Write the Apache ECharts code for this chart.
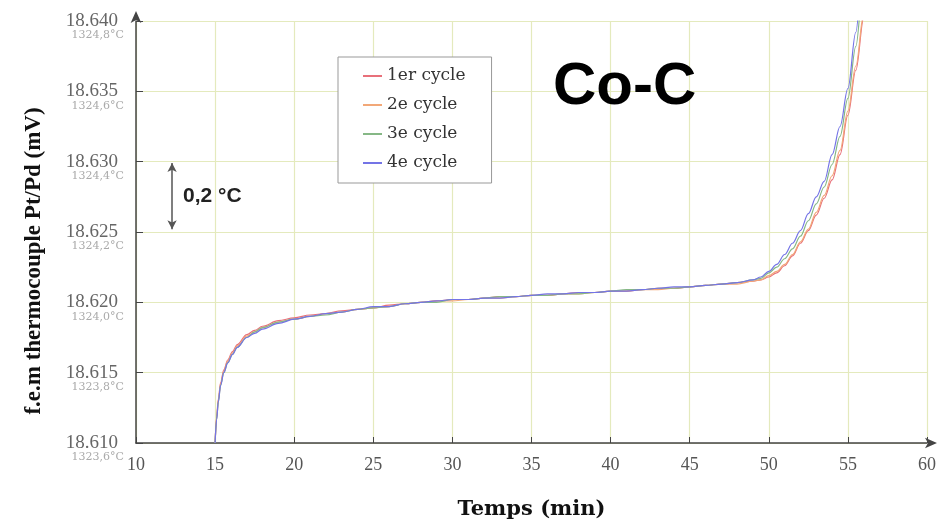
<!DOCTYPE html>
<html>
<head>
<meta charset="utf-8">
<script src="https://cdn.jsdelivr.net/npm/echarts@6/dist/echarts.min.js"></script>
<style>
  html, body { margin: 0; padding: 0; background: #ffffff; }
  #chart { width: 949px; height: 526px; }
</style>
</head>
<body>
<div id="chart"></div>
<script>
// Time axis (minutes) shared by the four melting cycles
const time = [15, 15.1, 15.2, 15.35, 15.55, 15.8, 16.1, 16.4, 17, 17.5, 18,
  19, 20, 21, 22, 23, 24, 25, 26, 27, 28, 29, 30, 31, 32, 33, 34, 35, 36, 37, 38, 39,
  40, 41, 42, 43, 44, 45, 46, 47, 48, 49, 49.5,
  50, 50.5, 51, 51.5, 52, 52.5, 53, 53.5, 54, 54.5, 55, 55.5, 56, 56.5];

// e.m.f. of the Pt/Pd thermocouple (mV) for each cycle
const cycle1 = [18.6100, 18.6119, 18.6131, 18.6143, 18.6152, 18.6159, 18.6165, 18.6170, 18.6177, 18.6180, 18.6183,
  18.6187, 18.6189, 18.6191, 18.6192, 18.6194, 18.6195, 18.6196, 18.6198, 18.6199, 18.6200, 18.6201, 18.6202, 18.6202, 18.6203, 18.6204, 18.6204, 18.6205, 18.6205, 18.6206, 18.6207, 18.6207,
  18.6208, 18.6208, 18.6209, 18.6210, 18.6210, 18.6211, 18.6212, 18.6213, 18.6214, 18.6215, 18.6216,
  18.6218, 18.6221, 18.6226, 18.6233, 18.6242, 18.6251, 18.6262, 18.6274, 18.6287, 18.6305, 18.6333, 18.6365, 18.6402, 18.6450];

const cycle2 = [18.6100, 18.6118, 18.6130, 18.6142, 18.6151, 18.6158, 18.6164, 18.6169, 18.6176, 18.6179, 18.6182,
  18.6186, 18.6188, 18.6190, 18.6192, 18.6193, 18.6195, 18.6196, 18.6197, 18.6199, 18.6200, 18.6201, 18.6201, 18.6202, 18.6203, 18.6203, 18.6204, 18.6205, 18.6205, 18.6206, 18.6206, 18.6207,
  18.6208, 18.6208, 18.6209, 18.6209, 18.6210, 18.6211, 18.6212, 18.6213, 18.6213, 18.6215, 18.6216,
  18.6219, 18.6222, 18.6227, 18.6234, 18.6243, 18.6252, 18.6264, 18.6276, 18.6290, 18.6308, 18.6336, 18.6368, 18.6405, 18.6450];

const cycle3 = [18.6100, 18.6117, 18.6129, 18.6141, 18.6150, 18.6157, 18.6163, 18.6168, 18.6175, 18.6179, 18.6182,
  18.6186, 18.6188, 18.6190, 18.6191, 18.6193, 18.6195, 18.6196, 18.6197, 18.6199, 18.6200, 18.6200, 18.6202, 18.6202, 18.6203, 18.6204, 18.6204, 18.6205, 18.6205, 18.6206, 18.6206, 18.6207,
  18.6208, 18.6209, 18.6209, 18.6210, 18.6210, 18.6211, 18.6212, 18.6213, 18.6214, 18.6216, 18.6217,
  18.6221, 18.6225, 18.6231, 18.6238, 18.6247, 18.6258, 18.6270, 18.6282, 18.6298, 18.6318, 18.6345, 18.6382, 18.6430, 18.6480];

const cycle4 = [18.6100, 18.6117, 18.6129, 18.6141, 18.6150, 18.6157, 18.6163, 18.6168, 18.6175, 18.6178, 18.6181,
  18.6185, 18.6188, 18.6190, 18.6192, 18.6193, 18.6195, 18.6197, 18.6197, 18.6199, 18.6200, 18.6201, 18.6202, 18.6202, 18.6203, 18.6203, 18.6204, 18.6205, 18.6206, 18.6206, 18.6207, 18.6207,
  18.6208, 18.6208, 18.6209, 18.6210, 18.6211, 18.6211, 18.6212, 18.6213, 18.6214, 18.6216, 18.6218,
  18.6222, 18.6227, 18.6234, 18.6242, 18.6251, 18.6263, 18.6275, 18.6286, 18.6305, 18.6325, 18.6352, 18.6392, 18.6450, 18.6500];

const cycleNames = ['1er cycle', '2e cycle', '3e cycle', '4e cycle'];
const cycleColors = ['#e8707a', '#f2a878', '#86b886', '#7474e6'];

// Tick labels: e.m.f. in mV and the corresponding temperature
const mvLabels = ['18.610', '18.615', '18.620', '18.625', '18.630', '18.635', '18.640'];
const tempLabels = ['1323,6°C', '1323,8°C', '1324,0°C', '1324,2°C', '1324,4°C', '1324,6°C', '1324,8°C'];
const xLabels = ['10', '15', '20', '25', '30', '35', '40', '45', '50', '55', '60'];

const cycles = [cycle1, cycle2, cycle3, cycle4];

const gridColor = '#e4eabd';
const serif = '"Liberation Serif", "Times New Roman", serif';
const wideSerif = '"DejaVu Serif", serif';

const chart = echarts.init(document.getElementById('chart'), null, { renderer: 'canvas' });

const series = cycles.map((vals, k) => ({
  name: cycleNames[k],
  type: 'line',
  data: time.map((t, i) => [t, vals[i]]),
  showSymbol: false,
  symbol: 'none',
  smooth: 0.35,
  smoothMonotone: 'x',
  clip: true,
  lineStyle: { color: cycleColors[k], width: 1.2 },
  itemStyle: { color: cycleColors[k] },
  z: 3 + k
}));

// 0,2 °C scale bar
series[0].markLine = {
  silent: true,
  symbol: ['arrow', 'arrow'],
  symbolSize: [7, 9],
  label: { show: false },
  lineStyle: { color: '#555', width: 1.5, type: 'solid' },
  data: [[{ coord: [12.28, 18.6299] }, { coord: [12.28, 18.6252] }]]
};

chart.setOption({
  animation: false,
  backgroundColor: '#ffffff',
  grid: { left: 136, right: 22, top: 21, bottom: 83, containLabel: false },
  legend: {
    data: cycleNames,
    orient: 'vertical',
    left: 338,
    top: 57,
    padding: [9, 26, 10, 25],
    itemGap: 9,
    itemWidth: 19,
    itemHeight: 2,
    icon: 'rect',
    borderColor: '#999',
    borderWidth: 1,
    backgroundColor: '#ffffff',
    textStyle: { fontFamily: wideSerif, fontSize: 17, color: '#333', lineHeight: 20 }
  },
  xAxis: {
    type: 'value',
    min: 10,
    max: 60,
    interval: 5,
    name: 'Temps (min)',
    nameLocation: 'middle',
    nameGap: 56,
    nameTextStyle: { fontFamily: wideSerif, fontWeight: 'bold', fontSize: 21, color: '#111' },
    axisLine: { show: true, lineStyle: { color: '#444', width: 1.5 }, symbol: ['none', 'arrow'], symbolSize: [8, 12], symbolOffset: [0, 10] },
    axisTick: { show: true, inside: true, length: 6, lineStyle: { color: '#444' } },
    axisLabel: {
      margin: 13,
      fontFamily: serif,
      fontSize: 18,
      color: '#555',
      formatter: (v, i) => xLabels[i]
    },
    splitLine: { show: true, lineStyle: { color: gridColor, width: 1.2 } }
  },
  yAxis: [
    {
      type: 'value',
      min: 18.610,
      max: 18.640,
      interval: 0.005,
      name: 'f.e.m thermocouple Pt/Pd (mV)',
      nameLocation: 'middle',
      nameGap: 90,
      nameTextStyle: { fontFamily: serif, fontWeight: 'bold', fontSize: 23, color: '#111', padding: [0, 58, 0, 0] },
      axisLine: { show: true, lineStyle: { color: '#444', width: 1.5 }, symbol: ['none', 'arrow'], symbolSize: [8, 12], symbolOffset: [0, 10] },
      axisTick: { show: true, inside: true, length: 7, lineStyle: { color: '#444' } },
      axisLabel: {
        margin: 18,
        fontFamily: serif,
        fontSize: 19,
        color: '#666',
        formatter: (v, i) => mvLabels[i]
      },
      splitLine: { show: true, lineStyle: { color: gridColor, width: 1.2 } }
    },
    {
      type: 'value',
      position: 'left',
      min: 18.610,
      max: 18.640,
      interval: 0.005,
      axisLine: { show: false },
      axisTick: { show: false },
      splitLine: { show: false },
      axisLabel: {
        margin: 12,
        fontFamily: wideSerif,
        fontSize: 11,
        color: '#aaa',
        verticalAlign: 'top',
        padding: [9, 0, 0, 0],
        formatter: (v, i) => tempLabels[i]
      }
    }
  ],
  series: series,
  graphic: [
    {
      type: 'text',
      left: 553,
      top: 57,
      z: 10,
      style: { text: 'Co-C', font: 'bold 60px "Liberation Sans", Arial, sans-serif', fill: '#000' }
    },
    {
      type: 'text',
      left: 183,
      top: 186,
      z: 10,
      style: { text: '0,2 °C', font: 'bold 21px "Liberation Sans", Arial, sans-serif', fill: '#222' }
    }
  ]
});
</script>
</body>
</html>
